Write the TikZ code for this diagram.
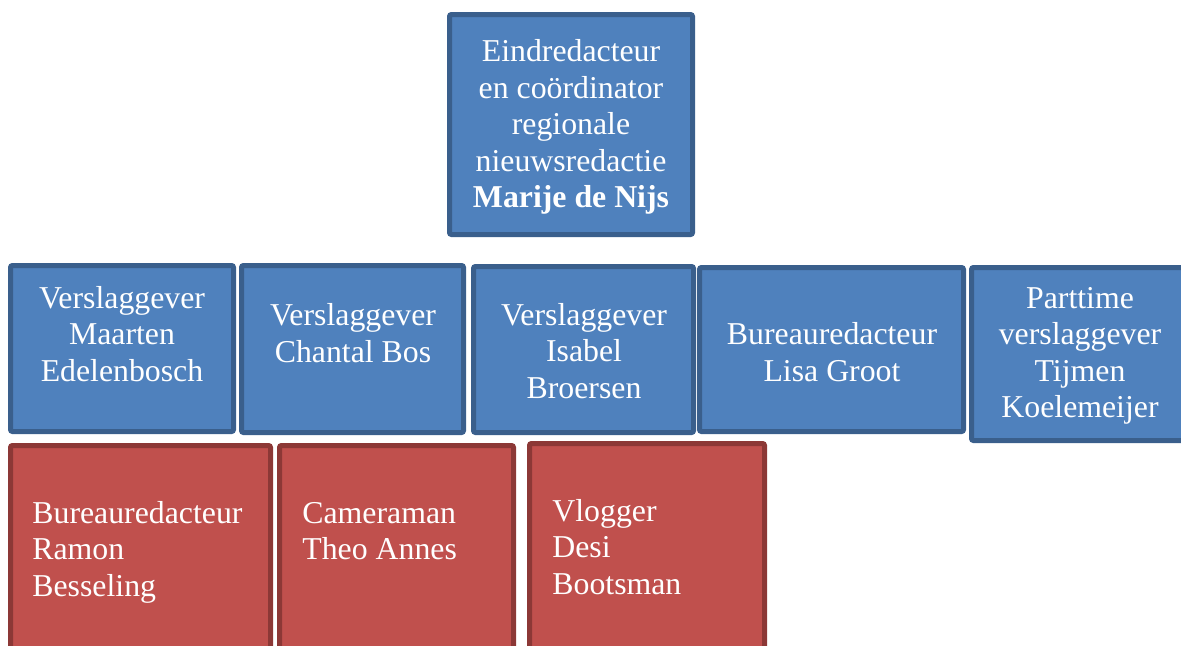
\documentclass[tikz,border=0pt]{standalone}
\usepackage{fontspec}
\setmainfont{Liberation Serif}
\usetikzlibrary{fit}
\definecolor{vulblauw}{HTML}{4F81BD}
\definecolor{randblauw}{HTML}{3A5F8C}
\definecolor{vulrood}{HTML}{C0504D}
\definecolor{randrood}{HTML}{8C3836}
\begin{document}
\begin{tikzpicture}[x=0.5pt,y=-0.5pt,
  blok/.style={draw,line width=2.5pt,rounded corners=1pt,inner sep=-1.25pt},
  blauw/.style={blok,fill=vulblauw,draw=randblauw},
  rood/.style={blok,fill=vulrood,draw=randrood},
  tekst/.style={text=white,inner sep=0pt,font=\fontsize{15.9}{18.25}\selectfont},
  midden/.style={tekst,align=center},
  links/.style={tekst,align=left,anchor=west}]
\useasboundingbox (0,0) rectangle (1181,645);

% eindredactie
\node (hoofd) [blauw,fit={(447,12) (695,237)}] {};
\node (hoofdtekst) [midden] at (571,127) {Eindredacteur\\en coördinator\\regionale\\nieuwsredactie\\\textbf{Marije de Nijs}};

% verslaggevers
\node (v1) [blauw,fit={(8,263) (236,434)}] {};
\node (v2) [blauw,fit={(239,263) (466,435)}] {};
\node (v3) [blauw,fit={(471,264) (696,435)}] {};
\node (v4) [blauw,fit={(697,265) (966,434)}] {};
\node (v5) [blauw,fit={(969,265) (1191,443)}] {};
\node (v1tekst) [midden] at (122,334) {Verslaggever\\Maarten\\Edelenbosch};
\node (v2tekst) [midden] at (353,333) {Verslaggever\\Chantal Bos};
\node (v3tekst) [midden] at (584,351) {Verslaggever\\Isabel\\Broersen};
\node (v4tekst) [midden] at (832,352) {Bureauredacteur\\Lisa Groot};
\node (v5tekst) [midden] at (1080,356) {Parttime\\verslaggever\\Tijmen\\Koelemeijer};

% overige medewerkers
\node (r1) [rood,fit={(8,443) (273,680)}] {};
\node (r2) [rood,fit={(277,443) (516,680)}] {};
\node (r3) [rood,fit={(527,441) (767,680)}] {};
\node (r1tekst) [links] at (32,552) {Bureauredacteur\\Ramon\\Besseling};
\node (r2tekst) [links] at (302,531) {Cameraman\\Theo Annes};
\node (r3tekst) [links] at (552,547) {Vlogger\\Desi\\Bootsman};
\end{tikzpicture}
\end{document}
